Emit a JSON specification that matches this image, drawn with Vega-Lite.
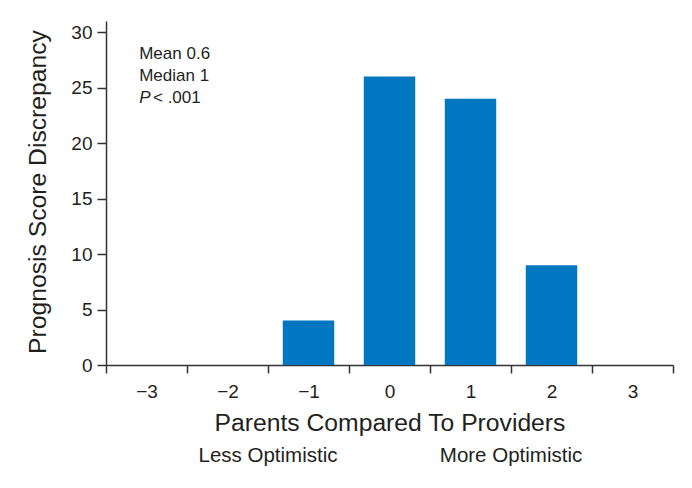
{
  "$schema": "https://vega.github.io/schema/vega-lite/v6.json",
  "width": 567,
  "height": 344,
  "autosize": {"type": "none"},
  "padding": {"left": 106, "top": 21, "right": 19, "bottom": 123},
  "background": "white",
  "config": {
    "view": {"stroke": null},
    "font": "Liberation Sans",
    "axis": {
      "domainColor": "#333333",
      "domainWidth": 1.5,
      "tickColor": "#333333",
      "tickWidth": 1.5,
      "labelColor": "#231f20",
      "titleColor": "#231f20",
      "labelFont": "Liberation Sans",
      "titleFont": "Liberation Sans",
      "labelFontSize": 19,
      "titleFontSize": 24.7,
      "titleFontWeight": "normal",
      "grid": false
    }
  },
  "layer": [
    {
      "data": {
        "values": [
          {"score": "−3", "count": 0},
          {"score": "−2", "count": 0},
          {"score": "−1", "count": 4},
          {"score": "0", "count": 26},
          {"score": "1", "count": 24},
          {"score": "2", "count": 9},
          {"score": "3", "count": 0}
        ]
      },
      "mark": {"type": "bar", "color": "#0077c0", "width": {"band": 0.635}},
      "encoding": {
        "x": {
          "field": "score",
          "type": "ordinal",
          "sort": ["−3", "−2", "−1", "0", "1", "2", "3"],
          "scale": {"paddingInner": 0, "paddingOuter": 0},
          "axis": {
            "title": "Parents Compared To Providers",
            "labelAngle": 0,
            "tickBand": "extent",
            "tickSize": 8,
            "labelBaseline": "alphabetic",
            "labelPadding": 24,
            "titleBaseline": "alphabetic",
            "titleY": 65
          }
        },
        "y": {
          "field": "count",
          "type": "quantitative",
          "scale": {"domain": [0, 31], "nice": false},
          "axis": {
            "title": "Prognosis Score Discrepancy",
            "values": [0, 5, 10, 15, 20, 25, 30],
            "tickSize": 9,
            "labelPadding": 5,
            "titleBaseline": "alphabetic",
            "titleX": -61,
            "titleY": 170.5,
            "titleAngle": -90
          }
        }
      }
    },
    {
      "data": {"values": [{"t": "Mean 0.6"}]},
      "mark": {"type": "text", "align": "left", "baseline": "alphabetic", "fontSize": 17, "color": "#231f20"},
      "encoding": {
        "text": {"field": "t"},
        "x": {"datum": "−3", "bandPosition": 0.41},
        "y": {"datum": 27.58}
      }
    },
    {
      "data": {"values": [{"t": "Median 1"}]},
      "mark": {"type": "text", "align": "left", "baseline": "alphabetic", "fontSize": 17, "color": "#231f20"},
      "encoding": {
        "text": {"field": "t"},
        "x": {"datum": "−3", "bandPosition": 0.41},
        "y": {"datum": 25.59}
      }
    },
    {
      "data": {"values": [{"t": "P"}]},
      "mark": {"type": "text", "align": "left", "baseline": "alphabetic", "fontSize": 17, "fontStyle": "italic", "color": "#231f20"},
      "encoding": {
        "text": {"field": "t"},
        "x": {"datum": "−3", "bandPosition": 0.41},
        "y": {"datum": 23.61}
      }
    },
    {
      "data": {"values": [{"t": "< .001"}]},
      "mark": {"type": "text", "align": "left", "baseline": "alphabetic", "fontSize": 17, "color": "#231f20"},
      "encoding": {
        "text": {"field": "t"},
        "x": {"datum": "−3", "bandPosition": 0.58},
        "y": {"datum": 23.61}
      }
    },
    {
      "data": {"values": [{"t": "Less Optimistic"}]},
      "mark": {"type": "text", "align": "center", "baseline": "alphabetic", "fontSize": 20.5, "color": "#231f20"},
      "encoding": {
        "text": {"field": "t"},
        "x": {"datum": "−1", "bandPosition": 0},
        "y": {"datum": -8.74}
      }
    },
    {
      "data": {"values": [{"t": "More Optimistic"}]},
      "mark": {"type": "text", "align": "center", "baseline": "alphabetic", "fontSize": 20.5, "color": "#231f20"},
      "encoding": {
        "text": {"field": "t"},
        "x": {"datum": "2", "bandPosition": 0},
        "y": {"datum": -8.74}
      }
    }
  ]
}
